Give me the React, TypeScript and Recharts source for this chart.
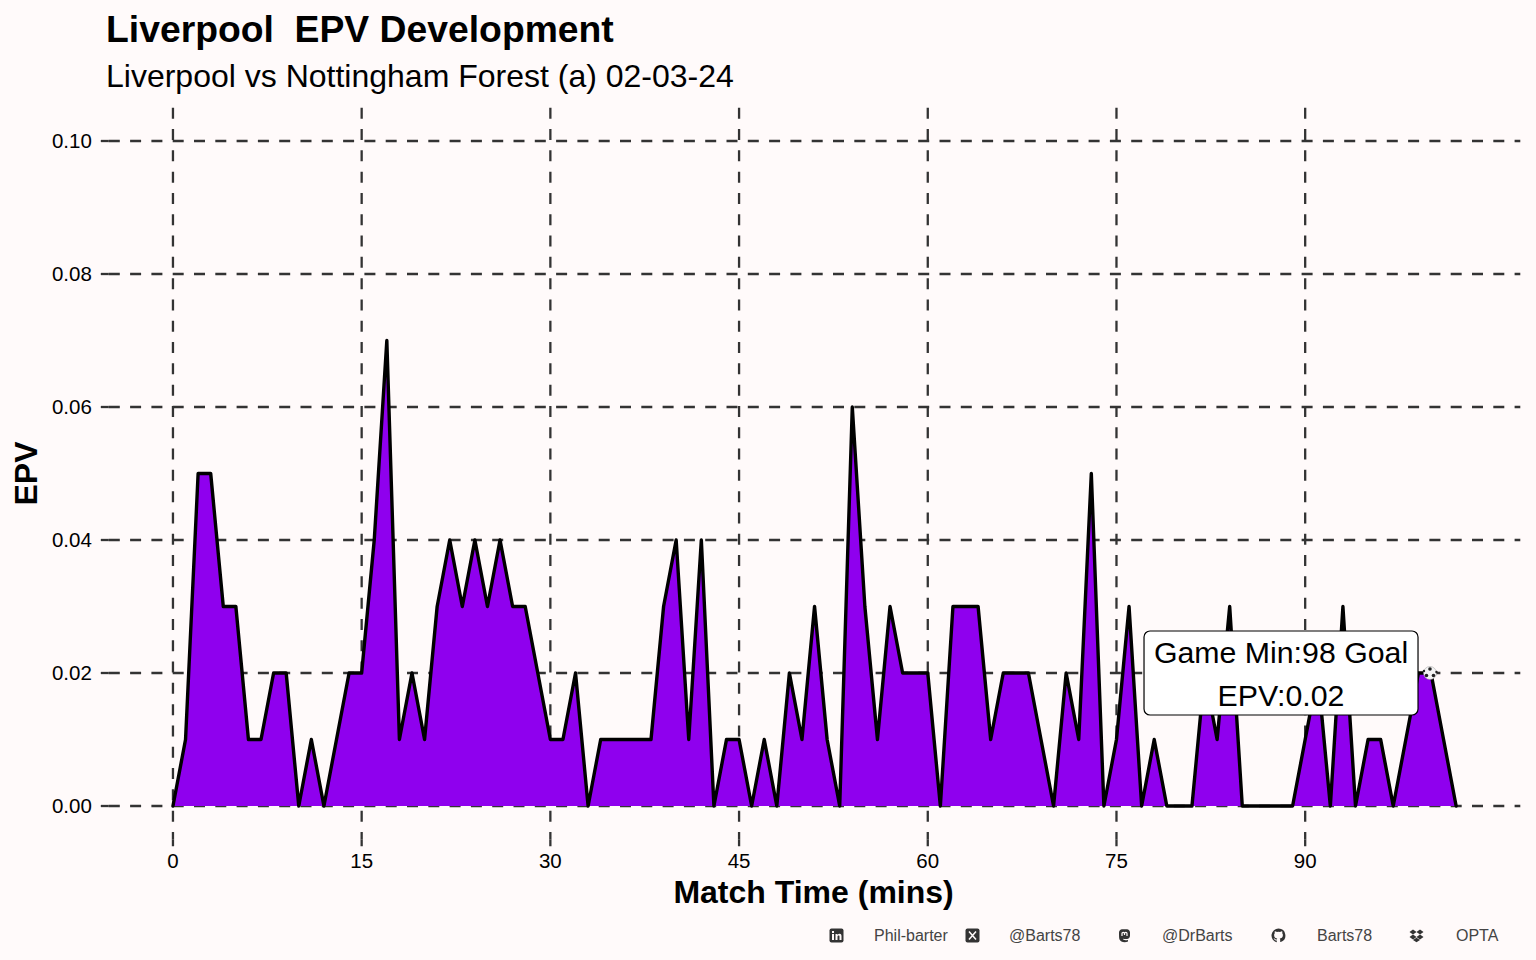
import React from 'react';
import {
  AreaChart,
  Area,
  XAxis,
  YAxis,
  CartesianGrid,
  ReferenceDot,
} from 'recharts';

// one value per match minute, 0 to 102
const epvValues = [
  0, 0.01, 0.05, 0.05, 0.03, 0.03, 0.01, 0.01, 0.02, 0.02,
  0, 0.01, 0, 0.01, 0.02, 0.02, 0.04, 0.07, 0.01, 0.02,
  0.01, 0.03, 0.04, 0.03, 0.04, 0.03, 0.04, 0.03, 0.03, 0.02,
  0.01, 0.01, 0.02, 0, 0.01, 0.01, 0.01, 0.01, 0.01, 0.03,
  0.04, 0.01, 0.04, 0, 0.01, 0.01, 0, 0.01, 0, 0.02,
  0.01, 0.03, 0.01, 0, 0.06, 0.03, 0.01, 0.03, 0.02, 0.02,
  0.02, 0, 0.03, 0.03, 0.03, 0.01, 0.02, 0.02, 0.02, 0.01,
  0, 0.02, 0.01, 0.05, 0, 0.01, 0.03, 0, 0.01, 0,
  0, 0, 0.02, 0.01, 0.03, 0, 0, 0, 0, 0,
  0.01, 0.02, 0, 0.03, 0, 0.01, 0.01, 0, 0.01, 0.02,
  0.02, 0.01, 0,
];
const minutes = epvValues.map((_, i) => i);
const xTicks = [0, 15, 30, 45, 60, 75, 90];
const yTicks = [0, 0.02, 0.04, 0.06, 0.08, 0.1];
const goalMinute = [100];
const goalEpv = [0.02];
const labelLines = ['Game Min:98 Goal', 'EPV:0.02'];
const footerItems = [
  { icon: 'linkedin', text: 'Phil-barter', iconX: 829, textX: 874 },
  { icon: 'x', text: '@Barts78', iconX: 965, textX: 1009 },
  { icon: 'mastodon', text: '@DrBarts', iconX: 1117, textX: 1162 },
  { icon: 'github', text: 'Barts78', iconX: 1271, textX: 1317 },
  { icon: 'dropbox', text: 'OPTA', iconX: 1409, textX: 1456 },
];

const chartData = minutes.map((m, i) => ({ minute: m, epv: epvValues[i] }));

const FONT = '"Liberation Sans", Arial, sans-serif';
const GRID = '#333333';

const GoalBall = ({ cx, cy }: any) => (
  <g>
    <circle cx={cx - 1} cy={cy} r={6.5} fill="#f4f4f4" stroke="#999" strokeWidth={0.5} />
    <circle cx={cx - 1} cy={cy - 4} r={1.8} fill="#222" />
    <circle cx={cx - 4.5} cy={cy + 2.5} r={1.8} fill="#222" />
    <circle cx={cx + 2.5} cy={cy + 2.5} r={1.8} fill="#222" />
    <circle cx={cx + 5.5} cy={cy - 1} r={1.2} fill="#222" />
    <circle cx={cx - 7} cy={cy - 2} r={1.2} fill="#222" />
  </g>
);

const GoalLabel = ({ cx, cy }: any) => (
  <g>
    <rect
      x={cx - 136}
      y={cy - 42}
      width={274}
      height={84}
      rx={6}
      fill="#ffffff"
      stroke="#000000"
      strokeWidth={1.2}
    />
    {labelLines.map((line, i) => (
      <text
        key={line}
        x={cx + 1}
        y={cy - 10.5 + i * 43}
        textAnchor="middle"
        fontFamily={FONT}
        fontSize={30.3}
        fill="#000000"
      >
        {line}
      </text>
    ))}
  </g>
);

const FooterIcon = ({ name }: { name: string }) => {
  const fg = '#333333';
  if (name === 'linkedin' || name === 'x') {
    return (
      <svg width={15} height={15} viewBox="0 0 15 15">
        <rect x={0.5} y={0.5} width={14} height={14} rx={2} fill={fg} />
        {name === 'linkedin' ? (
          <g fill="#fffafa">
            <rect x={3} y={6} width={2} height={6} />
            <rect x={3} y={3} width={2} height={2} />
            <path d="M6.5 6h2v1c.6-.8 1.3-1.2 2.2-1.2 1.4 0 1.8 1 1.8 2.4V12h-2V8.6c0-.8-.2-1.2-.9-1.2s-1.1.5-1.1 1.3V12h-2z" />
          </g>
        ) : (
          <path d="M4 3.5 L11 11.5 M11 3.5 L4 11.5" stroke="#fffafa" strokeWidth={1.5} />
        )}
      </svg>
    );
  }
  if (name === 'mastodon') {
    return (
      <svg width={15} height={15} viewBox="0 0 15 15">
        <path d="M2 4.5C2 2.5 3.5 1.2 5 1.2h5c1.6 0 3 1.3 3 3.3v3.2c0 2-1.4 3-3 3.2-1.5.2-3 .1-4-.1.2 1.4 2 1.7 5 1.2v1.6c-3 1-7.5.8-8.6-2.3C2 9.700 2 7 2 4.500z" fill={fg} />
        <path d="M5 8V5.500c0-1.600 2.500-1.600 2.500 0v1.500M7.500 7V5.500c0-1.600 2.500-1.600 2.500 0V8" fill="none" stroke="#fffafa" strokeWidth={1.2} />
      </svg>
    );
  }
  if (name === 'github') {
    return (
      <svg width={15} height={15} viewBox="0 0 15 15">
        <path d="M7.500.5a7 7 0 0 0-2.200 13.650c.35.060.5-.15.5-.35v-1.300c-1.950.4-2.350-.9-2.350-.9-.3-.8-.75-1-.75-1-.65-.45.050-.45.050-.45.700.050 1.050.7 1.050.7.600 1.050 1.650.75 2.050.55.050-.45.250-.75.450-.9-1.550-.2-3.200-.8-3.200-3.450 0-.75.250-1.400.700-1.900-.1-.2-.3-.9.050-1.850 0 0 .6-.2 1.900.7a6.500 6.500 0 0 1 3.500 0c1.300-.9 1.900-.7 1.900-.7.350.95.150 1.650.050 1.850.45.500.7 1.150.7 1.900 0 2.650-1.650 3.250-3.200 3.450.25.200.5.650.5 1.300v1.950c0 .2.150.4.500.35A7 7 0 0 0 7.500.5z" fill={fg} />
      </svg>
    );
  }
  return (
    <svg width={15} height={15} viewBox="0 0 15 15">
      <path d="M4 1.500 7.500 4 4 6.500.5 4zM11 1.500 14.500 4 11 6.500 7.500 4zM4 6.500 7.500 9 4 11.500.5 9zM11 6.500 14.500 9 11 11.500 7.500 9zM4 12l3.500-2.300L11 12l-3.500 2.300z" fill={fg} />
    </svg>
  );
};

export default function App() {
  return (
    <div
      style={{
        position: 'absolute',
        left: 0,
        top: 0,
        width: 1536,
        height: 960,
        background: '#fffafa',
        fontFamily: FONT,
        overflow: 'hidden',
      }}
    >
      <div style={{ position: 'absolute', left: 106, top: 8, fontSize: 37.3, fontWeight: 700, whiteSpace: 'pre', color: '#000' }}>
        Liverpool  EPV Development
      </div>
      <div style={{ position: 'absolute', left: 106, top: 58, fontSize: 32, whiteSpace: 'pre', color: '#000' }}>
        Liverpool vs Nottingham Forest (a) 02-03-24
      </div>

      <AreaChart
        width={1536}
        height={960}
        data={chartData}
        margin={{ top: 107.75, right: 15.7, bottom: 80.75, left: 8.8 }}
        style={{ position: 'absolute', left: 0, top: 0 }}
      >
        <CartesianGrid stroke={GRID} strokeWidth={2.3} strokeDasharray="11 10.3" syncWithTicks />
        <XAxis
          dataKey="minute"
          type="number"
          domain={[-5.1, 107.1]}
          ticks={xTicks}
          interval={0}
          allowDataOverflow
          axisLine={false}
          tickLine={{ stroke: GRID, strokeWidth: 2.3 }}
          tickSize={7}
          tickMargin={7}
          height={40}
          tick={{ fontSize: 20.5, fill: '#000', fontFamily: FONT }}
          label={{
            value: 'Match Time (mins)',
            position: 'insideBottom',
            offset: -24,
            dx: -1,
            style: { fontSize: 32, fontWeight: 700, fill: '#000', fontFamily: FONT },
          }}
        />
        <YAxis
          type="number"
          domain={[-0.005, 0.105]}
          ticks={yTicks}
          interval={0}
          allowDataOverflow
          width={100}
          axisLine={false}
          tickLine={{ stroke: GRID, strokeWidth: 2.3 }}
          tickSize={8}
          tickMargin={9}
          tickFormatter={(v: number) => v.toFixed(2)}
          tick={{ fontSize: 20.5, fill: '#000', fontFamily: FONT }}
          label={{
            value: 'EPV',
            angle: -90,
            position: 'insideLeft',
            offset: 17,
            style: { fontSize: 32, fontWeight: 700, fill: '#000', fontFamily: FONT, textAnchor: 'middle' },
          }}
        />
        <Area
          type="linear"
          dataKey="epv"
          stroke="#000000"
          strokeWidth={3.4}
          strokeLinejoin="round"
          strokeLinecap="round"
          fill="#8f00ee"
          fillOpacity={1}
          dot={false}
          activeDot={false}
          isAnimationActive={false}
        />
        <ReferenceDot x={goalMinute[0]} y={goalEpv[0]} shape={GoalBall} />
        <ReferenceDot x={88} y={goalEpv[0]} shape={GoalLabel} />
      </AreaChart>

      {footerItems.map((item) => (
        <React.Fragment key={item.text}>
          <div style={{ position: 'absolute', left: item.iconX, top: 928, lineHeight: 0 }}>
            <FooterIcon name={item.icon} />
          </div>
          <div style={{ position: 'absolute', left: item.textX, top: 927, fontSize: 16, color: '#444444' }}>
            {item.text}
          </div>
        </React.Fragment>
      ))}
    </div>
  );
}
